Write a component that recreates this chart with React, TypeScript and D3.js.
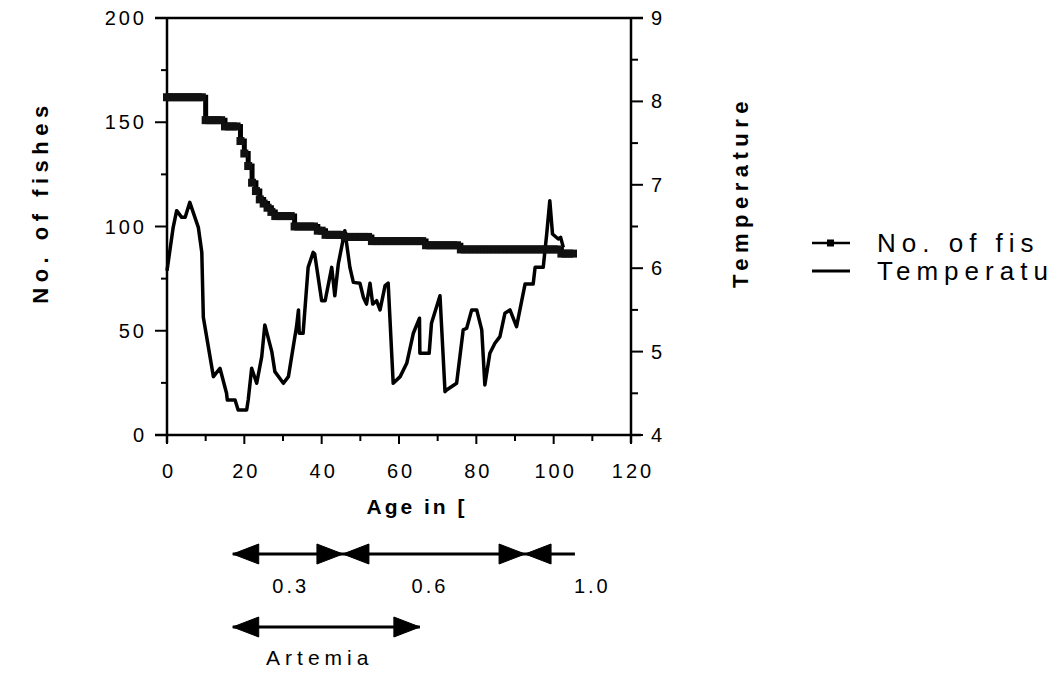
import React from "react";
import * as d3 from "d3";

// ---------- data ----------
// No. of fishes, one value per day (day = index)
const fishValues: number[] = [
  162, 162, 162, 162, 162, 162, 162, 162, 162, 162,
  151, 151, 151, 151, 151,
  148, 148, 148, 148,
  141, 135, 129, 121, 117, 113, 111, 109, 107,
  105, 105, 105, 105, 105,
  100, 100, 100, 100, 100, 100,
  98, 98,
  96, 96, 96, 96, 96,
  95, 95, 95, 95, 95, 95, 95,
  93, 93, 93, 93, 93, 93, 93, 93, 93, 93, 93, 93, 93, 93,
  91, 91, 91, 91, 91, 91, 91, 91, 91,
  89, 89, 89, 89, 89, 89, 89, 89, 89, 89, 89, 89, 89, 89, 89, 89, 89, 89, 89, 89, 89, 89, 89, 89, 89, 89,
  87, 87, 87, 87,
];

// Temperature readings
const tempDays: number[] = [
  0, 1.6, 2.5, 3.8, 4.7, 5.9, 8.1, 9, 9.4, 12, 13.7, 15.4, 15.6, 17.6, 18.4, 20.6, 21, 21.9,
  23.2, 24.5, 25.3, 27.1, 27.9, 30.1, 31.4, 33.5, 34, 34.2, 35.2, 36.5, 37.8, 38.2, 40, 40.9,
  42.6, 43.4, 44.3, 46, 47.3, 48.2, 49.9, 50.8, 51.6, 52.5, 53.2, 54.2, 55.1, 56.4, 57.2, 58.5,
  60.3, 62, 63.7, 65.3, 65.4, 67.8, 68.4, 70.6, 71.9, 72.3, 74.9, 76.6, 77.5, 78.8, 80.1, 81.4,
  82.2, 83.5, 84.8, 86.1, 87.4, 88.7, 90.4, 92.6, 94.7, 95.2, 97.3, 98.2, 99, 99.7, 101.2, 101.8,
  102.5,
];
const tempValues: number[] = [
  5.97, 6.49, 6.69, 6.61, 6.61, 6.79, 6.49, 6.19, 5.41, 4.7, 4.8, 4.5, 4.42, 4.42, 4.3, 4.3, 4.42, 4.8,
  4.62, 4.94, 5.32, 5.0, 4.76, 4.62, 4.7, 5.3, 5.5, 5.22, 5.22, 6.01, 6.19, 6.17, 5.61, 5.61,
  6.01, 5.67, 6.05, 6.45, 6.01, 5.83, 5.82, 5.65, 5.57, 5.82, 5.57, 5.61, 5.5, 5.79, 5.82, 4.62,
  4.7, 4.86, 5.22, 5.4, 4.98, 4.98, 5.34, 5.67, 4.52, 4.54, 4.62, 5.26, 5.28, 5.5, 5.5, 5.26,
  4.6, 4.98, 5.1, 5.18, 5.46, 5.5, 5.3, 5.81, 5.81, 6.01, 6.01, 6.41, 6.81, 6.41, 6.35, 6.37,
  6.25,
];

const xTicks: number[] = [0, 20, 40, 60, 80, 100, 120];
const xMinorTicks: number[] = [10, 30, 50, 70, 90, 110];
const yLeftTicks: number[] = [0, 50, 100, 150, 200];
const yLeftMinor: number[] = [25, 75, 125, 175];
const yRightTicks: number[] = [4, 5, 6, 7, 8, 9];
const yRightMinor: number[] = [4.5, 5.5, 6.5, 7.5, 8.5];

// feeding periods (day ranges)
const feedLabels: string[] = ["0.3", "0.6", "1.0"];
const feedStart: number[] = [17, 45.5, 92.6];
const feedEnd: number[] = [45.5, 92.6, 105.5];
const feedHeadRight: boolean[] = [true, true, false];
const feedLabelDay: number[] = [32, 68, 110];
const artemiaRange: number[] = [17, 65.4];
const artemiaLabelDay = 39.5;

// legend texts as visible (cut off at the right edge in the original)
const legendLabels: string[] = ["No. of fis", "Temperatu"];

// ---------- layout ----------
const W = 1057;
const H = 675;
const X0 = 167;
const X1 = 631;
const YT = 18;
const YB = 435;

export default function App() {
  const x = d3.scaleLinear().domain([0, 120]).range([X0, X1]);
  const yL = d3.scaleLinear().domain([0, 200]).range([YB, YT]);
  const yR = d3.scaleLinear().domain([4, 9]).range([YB, YT]);

  const fishPts: [number, number][] = fishValues.map((v, i) => [i, v]);
  const fishLine = d3
    .line<[number, number]>()
    .x((d) => x(d[0]))
    .y((d) => yL(d[1]))
    .curve(d3.curveStepAfter)(fishPts) as string;

  const tempLine = d3
    .line<number>()
    .x((d, i) => x(tempDays[i]))
    .y((d) => yR(d))(tempValues) as string;

  const font = "'Liberation Sans', Arial, Helvetica, sans-serif";
  const tickStyle: React.CSSProperties = { fontFamily: font, fontSize: 20, letterSpacing: 3 };

  const head = (tipX: number, y: number, dir: number, len = 26, hw = 10) =>
    `M${tipX},${y} L${tipX - dir * len},${y - hw} L${tipX - dir * len},${y + hw} Z`;

  const feedY = 554;
  const artY = 627;

  return (
    <svg
      width={W}
      height={H}
      style={{ position: "absolute", left: 0, top: 0, background: "#fff" }}
    >
      <defs>
        <clipPath id="legclip">
          <rect x={0} y={0} width={1048} height={H} />
        </clipPath>
      </defs>
      <rect x={0} y={0} width={W} height={H} fill="#fff" />

      {/* frame: top line, axes */}
      <g stroke="#000" strokeWidth={2.5} fill="none">
        <line x1={155} x2={643} y1={YT} y2={YT} />
        <line x1={155} x2={641} y1={YB} y2={YB} />
        <line x1={X0} x2={X0} y1={YT} y2={YB + 8} />
        <line x1={X1} x2={X1} y1={YT} y2={YB + 8} />
      </g>

      {/* ticks */}
      <g stroke="#000" strokeWidth={2}>
        {yLeftTicks.map((t) => (
          <line key={"l" + t} x1={155} x2={X0} y1={yL(t)} y2={yL(t)} />
        ))}
        {yLeftMinor.map((t) => (
          <line key={"lm" + t} x1={161} x2={X0} y1={yL(t)} y2={yL(t)} />
        ))}
        {yRightTicks.map((t) => (
          <line key={"r" + t} x1={X1} x2={643} y1={yR(t)} y2={yR(t)} />
        ))}
        {yRightMinor.map((t) => (
          <line key={"rm" + t} x1={X1} x2={638} y1={yR(t)} y2={yR(t)} />
        ))}
        {xTicks.map((t) => (
          <line key={"x" + t} x1={x(t)} x2={x(t)} y1={YB} y2={YB + 9} />
        ))}
        {xMinorTicks.map((t) => (
          <line key={"xm" + t} x1={x(t)} x2={x(t)} y1={YB} y2={YB + 6} />
        ))}
      </g>

      {/* tick labels */}
      <g style={tickStyle} fill="#000">
        {yLeftTicks.map((t) => (
          <text key={"tl" + t} x={147} y={yL(t)} dy="0.35em" textAnchor="end">
            {String(t)}
          </text>
        ))}
        {yRightTicks.map((t) => (
          <text key={"tr" + t} x={651} y={yR(t)} dy="0.35em" textAnchor="start">
            {String(t)}
          </text>
        ))}
        {xTicks.map((t) => (
          <text key={"tx" + t} x={x(t) + 2} y={478} textAnchor="middle">
            {String(t)}
          </text>
        ))}
      </g>

      {/* axis titles */}
      <text
        x={417}
        y={514}
        textAnchor="middle"
        style={{ fontFamily: font, fontSize: 21, fontWeight: "bold", letterSpacing: 3 }}
      >
        Age in [
      </text>
      <text
        transform={`translate(48,${202}) rotate(-90)`}
        textAnchor="middle"
        style={{ fontFamily: font, fontSize: 22, fontWeight: "bold", letterSpacing: 5.5 }}
      >
        No. of fishes
      </text>
      <text
        transform={`translate(748,${192}) rotate(-90)`}
        textAnchor="middle"
        style={{ fontFamily: font, fontSize: 22, fontWeight: "bold", letterSpacing: 5.5 }}
      >
        Temperature
      </text>

      {/* series */}
      <path d={tempLine} fill="none" stroke="#000" strokeWidth={3.5} strokeLinejoin="round" />
      <path d={fishLine} fill="none" stroke="#000" strokeWidth={5} />
      {fishPts.map((p, i) => (
        <rect key={"m" + i} x={x(p[0]) - 4} y={yL(p[1]) - 4} width={8} height={8} fill="#111" />
      ))}

      {/* legend */}
      <g clipPath="url(#legclip)">
        <line x1={812} x2={850} y1={243} y2={243} stroke="#000" strokeWidth={2.5} />
        <rect x={827} y={239.5} width={7} height={7} fill="#000" />
        <line x1={812} x2={850} y1={271} y2={271} stroke="#000" strokeWidth={3} />
        {legendLabels.map((l, i) => (
          <text
            key={l}
            x={877}
            y={243 + i * 28}
            dy="0.35em"
            style={{ fontFamily: font, fontSize: 26, letterSpacing: 6 }}
          >
            {l}
          </text>
        ))}
      </g>

      {/* feeding arrows */}
      <g fill="#000" stroke="#000">
        <line x1={x(feedStart[0])} x2={x(feedEnd[2])} y1={feedY} y2={feedY} strokeWidth={3} />
        {feedLabels.map((l, i) => (
          <g key={l}>
            <path d={head(x(feedStart[i]), feedY, -1)} strokeWidth={1} />
            {feedHeadRight[i] && <path d={head(x(feedEnd[i]), feedY, 1)} strokeWidth={1} />}
          </g>
        ))}
        <line x1={x(artemiaRange[0])} x2={x(artemiaRange[1])} y1={artY} y2={artY} strokeWidth={3} />
        <path d={head(x(artemiaRange[0]), artY, -1)} strokeWidth={1} />
        <path d={head(x(artemiaRange[1]), artY, 1)} strokeWidth={1} />
      </g>
      <g style={tickStyle} fill="#000">
        {feedLabels.map((l, i) => (
          <text key={"fl" + l} x={x(feedLabelDay[i])} y={593} textAnchor="middle">
            {l}
          </text>
        ))}
        <text x={x(artemiaLabelDay)} y={665} textAnchor="middle" style={{ fontSize: 21, letterSpacing: 5 }}>
          Artemia
        </text>
      </g>
    </svg>
  );
}
